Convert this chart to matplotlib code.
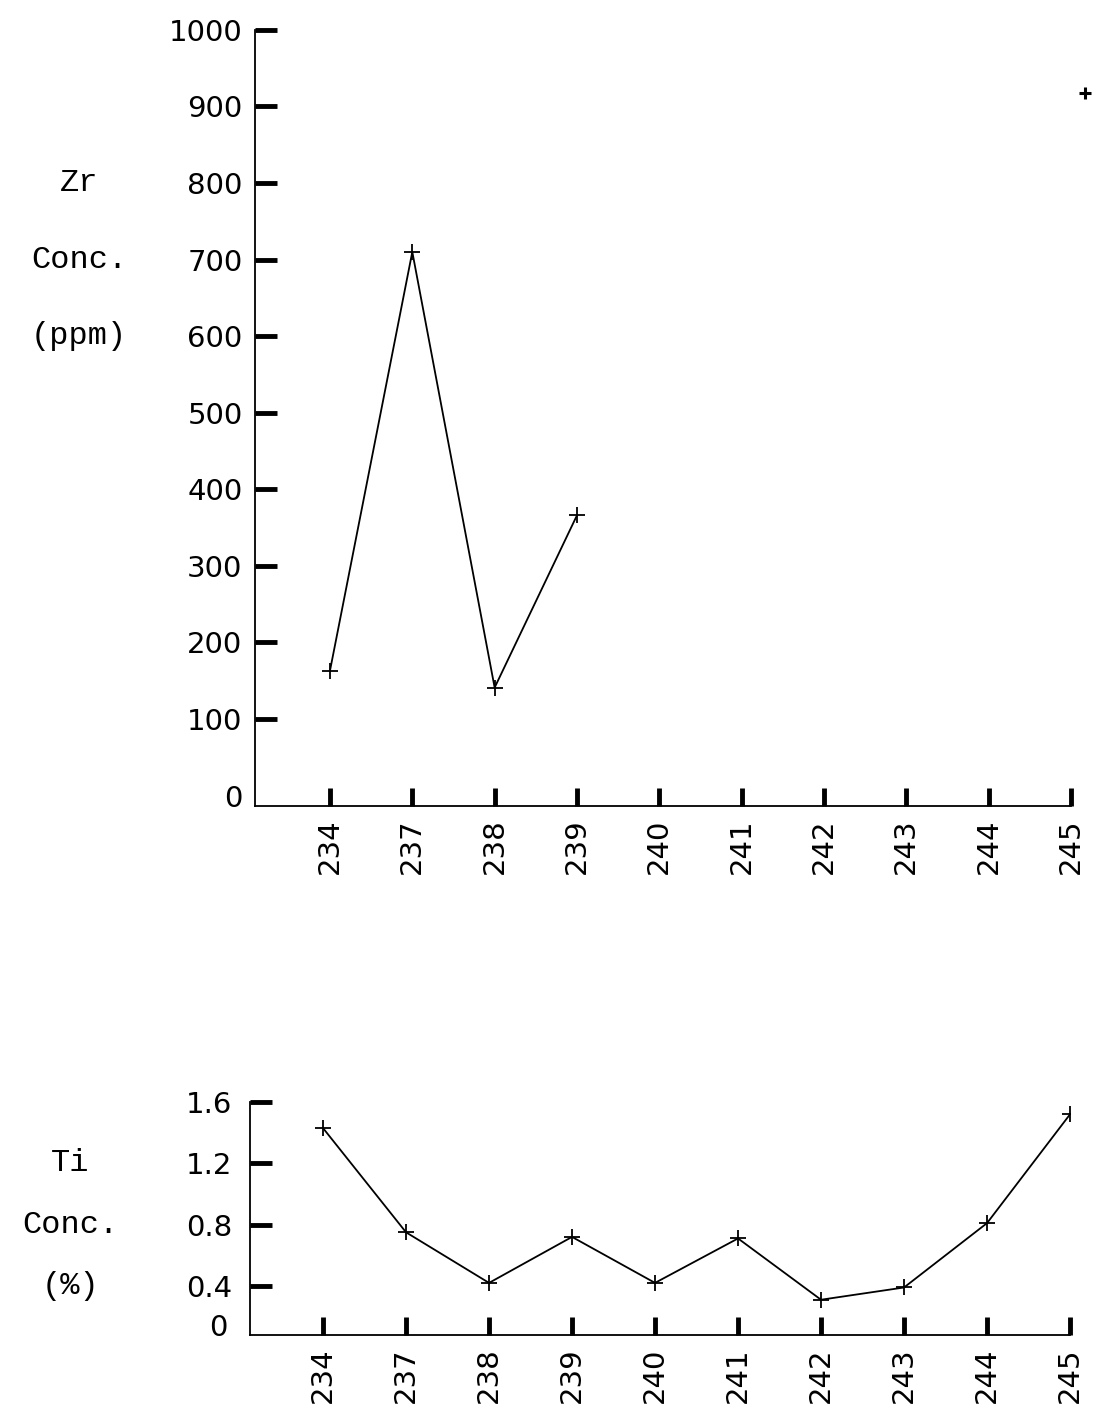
import numpy as np
import matplotlib
matplotlib.use("Agg")
import matplotlib.pyplot as plt
import matplotlib.transforms as mtransforms

samples = ["234", "237", "238", "239", "240", "241", "242", "243", "244", "245"]

# Zr (ppm); only the first four are joined, 245 is a lone point
zr_line = [163, 710, 141, 366]
zr_lone = 918

# Ti (%)
ti = [1.43, 0.75, 0.42, 0.72, 0.42, 0.71, 0.31, 0.39, 0.81, 1.52]

zr_ticks = [0, 100, 200, 300, 400, 500, 600, 700, 800, 900, 1000]
ti_ticks = [0.4, 0.8, 1.2, 1.6]
ti_tick_labels = ["0.4", "0.8", "1.2", "1.6"]

mono = "Liberation Mono"
num_font = "DejaVu Sans"

fig = plt.figure(figsize=(10.96, 14.10), dpi=100)


def style_axes(ax, ypad):
    ax.spines["top"].set_visible(False)
    ax.spines["right"].set_visible(False)
    ax.spines["left"].set_linewidth(1.3)
    ax.spines["bottom"].set_linewidth(1.3)
    ax.tick_params(axis="y", direction="in", length=16, width=3.5, pad=ypad,
                   labelsize=21)
    ax.tick_params(axis="x", direction="in", length=13, width=3.5, pad=9,
                   labelsize=21, labelrotation=90)
    for lab in ax.get_xticklabels() + ax.get_yticklabels():
        lab.set_family(num_font)


# ---- Zr panel
ax1 = fig.add_axes([0.2327, 0.4284, 0.7445, 0.5504])
x = np.arange(len(samples))
ax1.plot(x[:len(zr_line)], zr_line, color="black", lw=1.3, marker="+",
         markersize=12, mew=1.3)
ax1.plot([x[-1] + 0.17], [zr_lone], color="black", marker="+", ls="none",
         markersize=9, mew=2.2, clip_on=False)
ax1.set_xlim(-0.91, 9.0)
ax1.set_ylim(-13.6, 1000)
ax1.set_xticks(x)
ax1.set_xticklabels(samples)
ax1.set_yticks(zr_ticks)
ax1.set_yticklabels([str(t) for t in zr_ticks])
style_axes(ax1, 9)
ax1.yaxis.get_major_ticks()[0].tick1line.set_visible(False)

tr1 = mtransforms.blended_transform_factory(fig.transFigure, ax1.transData)
for txt, yv in [("Zr", 800), ("Conc.", 700), ("(ppm)", 600)]:
    ax1.text(0.072, yv, txt, transform=tr1, ha="center", va="center",
             family=mono, fontsize=23)

# ---- Ti panel
ax2 = fig.add_axes([0.2281, 0.0532, 0.7482, 0.1652])
ax2.plot(x, ti, color="black", lw=1.3, marker="+", markersize=12, mew=1.3)
ax2.set_xlim(-0.88, 9.0)
ax2.set_ylim(0.08, 1.6)
ax2.set_xticks(x)
ax2.set_xticklabels(samples)
ax2.set_yticks(ti_ticks)
ax2.set_yticklabels(ti_tick_labels)
style_axes(ax2, 13)
ax2.text(-0.027, 0.03, "0", transform=ax2.transAxes, ha="right", va="center",
         family=num_font, fontsize=21)

tr2 = mtransforms.blended_transform_factory(fig.transFigure, ax2.transData)
for txt, yv in [("Ti", 1.2), ("Conc.", 0.8), ("(%)", 0.4)]:
    ax2.text(0.064, yv, txt, transform=tr2, ha="center", va="center",
             family=mono, fontsize=23)

fig.savefig("out.png", dpi=100)
